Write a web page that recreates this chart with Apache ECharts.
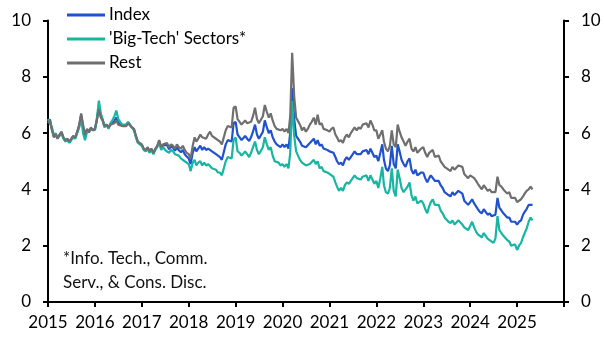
<!DOCTYPE html>
<html>
<head>
<meta charset="utf-8">
<script src="https://cdn.jsdelivr.net/npm/echarts@6/dist/echarts.min.js"></script>
<style>
  html, body { margin: 0; padding: 0; background: #fff; }
  #chart { width: 605px; height: 340px; }
</style>
</head>
<body>
<div id="chart"></div>
<script>
// Semi-monthly observations (1st and 16th of each month), Jan 2015 – May 2025
const dates = [];
for (let y = 2015; y <= 2025; y++) {
  for (let m = 0; m < 12; m++) {
    for (const d of [1, 16]) {
      if (y === 2025 && (m > 4 || (m === 4 && d > 1))) continue;
      dates.push(y + '-' + String(m + 1).padStart(2, '0') + '-' + String(d).padStart(2, '0'));
    }
  }
}

const seriesNames = ['Index', "'Big-Tech' Sectors*", 'Rest'];

const indexValues = [
  // 2015
  6.4, 6.48, 6.13, 5.86, 5.97, 5.82, 5.93, 6.03, 5.83, 5.73, 5.78, 5.68, 5.73, 5.88, 5.83, 6.03, 6.27, 6.65, 6.2, 5.9, 6.12, 6.03, 6.18, 6.1,
  // 2016
  6.14, 6.47, 6.95, 6.6, 6.47, 6.24, 6.3, 6.18, 6.31, 6.38, 6.43, 6.55, 6.36, 6.37, 6.27, 6.32, 6.27, 6.37, 6.3, 6.2, 6.14, 5.88, 5.68, 5.73,
  // 2017
  5.58, 5.43, 5.38, 5.48, 5.33, 5.43, 5.28, 5.43, 5.51, 5.72, 5.47, 5.57, 5.5, 5.58, 5.43, 5.53, 5.48, 5.38, 5.49, 5.39, 5.32, 5.4, 5.25, 5.17,
  // 2018
  5.1, 4.9, 5.3, 5.5, 5.35, 5.45, 5.55, 5.4, 5.5, 5.4, 5.45, 5.5, 5.35, 5.3, 5.25, 5.2, 5.15, 5.05, 5.1, 5.6, 5.75, 5.8, 5.7, 6.35,
  // 2019
  6.4, 5.95, 5.85, 5.75, 5.8, 5.9, 5.8, 5.72, 5.85, 6.05, 6.3, 5.95, 5.8, 5.75, 6.05, 6.45, 6.2, 6.0, 6.1, 5.85, 5.7, 5.6, 5.6, 5.5,
  // 2020
  5.6, 5.5, 5.6, 5.45, 6.0, 7.6, 6.5, 5.9, 5.85, 5.7, 5.55, 5.6, 5.5, 5.55, 5.65, 5.7, 5.8, 5.6, 5.75, 5.55, 5.6, 5.45, 5.5, 5.4,
  // 2021
  5.35, 5.4, 5.3, 5.15, 5.0, 4.9, 4.95, 4.85, 5.05, 5.15, 5.05, 5.15, 5.2, 5.35, 5.25, 5.3, 5.25, 5.35, 5.3, 5.4, 5.25, 5.45, 5.3, 5.15,
  // 2022
  5.2, 5.0, 5.3, 5.6, 5.05, 4.75, 4.65, 4.85, 5.55, 4.9, 4.75, 5.6, 5.35, 5.05, 4.9, 4.8, 5.0, 5.1, 4.7, 4.55, 4.7, 4.5, 4.45, 4.6,
  // 2023
  4.6, 4.4, 4.25, 4.4, 4.5, 4.55, 4.3, 4.25, 4.3, 4.15, 4.05, 3.9, 3.95, 3.8, 3.75, 3.9, 3.8, 3.85, 3.95, 3.95, 3.85, 3.6, 3.55, 3.45,
  // 2024
  3.55, 3.65, 3.5, 3.4, 3.3, 3.2, 3.15, 3.3, 3.2, 3.1, 3.15, 3.05, 3.05, 3.1, 3.7, 3.35, 3.25, 3.15, 3.1, 3.0, 3.0, 2.85, 2.8, 2.85,
  // 2025
  2.75, 2.85, 2.9, 3.1, 3.2, 3.3, 3.45, 3.5, 3.45
];

const bigTechValues = [
  // 2015
  6.5, 6.55, 6.2, 5.9, 6.0, 5.85, 5.9, 6.0, 5.8, 5.7, 5.75, 5.65, 5.7, 5.85, 5.8, 6.0, 6.2, 6.55, 6.0, 5.75, 6.05, 6.0, 6.15, 6.1,
  // 2016
  6.1, 6.5, 7.15, 6.7, 6.5, 6.2, 6.3, 6.15, 6.35, 6.45, 6.6, 6.8, 6.5, 6.4, 6.3, 6.35, 6.3, 6.4, 6.3, 6.2, 6.1, 5.85, 5.65, 5.7,
  // 2017
  5.55, 5.4, 5.35, 5.45, 5.3, 5.4, 5.25, 5.4, 5.45, 5.65, 5.4, 5.5, 5.4, 5.45, 5.3, 5.4, 5.35, 5.25, 5.3, 5.2, 5.1, 5.15, 5.0, 4.95,
  // 2018
  4.9, 4.65, 4.95, 5.05, 4.85, 4.95, 5.0, 4.85, 4.95, 4.85, 4.9, 4.9, 4.75, 4.7, 4.7, 4.6, 4.6, 4.5, 4.55, 5.0, 5.15, 5.2, 5.1, 5.75,
  // 2019
  5.85, 5.35, 5.3, 5.2, 5.25, 5.35, 5.25, 5.15, 5.3, 5.5, 5.7, 5.4, 5.25, 5.2, 5.5, 5.85, 5.6, 5.4, 5.5, 5.2, 5.0, 4.95, 4.95, 4.85,
  // 2020
  4.9, 4.8, 4.9, 4.75, 5.3, 7.15, 5.9, 5.35, 5.2, 5.05, 4.95, 4.95, 4.85, 4.9, 4.9, 4.95, 5.05, 4.9, 5.0, 4.75, 4.8, 4.65, 4.7, 4.6,
  // 2021
  4.55, 4.6, 4.45, 4.25, 4.1, 3.95, 4.05, 3.95, 4.15, 4.25, 4.2, 4.3, 4.35, 4.5, 4.4, 4.45, 4.35, 4.45, 4.4, 4.5, 4.3, 4.5, 4.35, 4.2,
  // 2022
  4.3, 4.05, 4.4, 4.8, 4.15, 3.9, 3.85, 4.05, 4.75, 3.95, 3.75, 4.7, 4.4, 4.05, 3.9, 3.85, 4.1, 4.25, 3.8, 3.6, 3.75, 3.5, 3.45, 3.6,
  // 2023
  3.5, 3.3, 3.15, 3.4, 3.55, 3.65, 3.45, 3.4, 3.45, 3.25, 3.15, 3.0, 3.0, 2.85, 2.8, 2.9, 2.75, 2.8, 2.9, 2.85, 2.75, 2.65, 2.6, 2.55,
  // 2024
  2.7, 2.85, 2.65, 2.5, 2.4, 2.35, 2.3, 2.45, 2.35, 2.25, 2.2, 2.15, 2.1, 2.25, 3.05, 2.55, 2.45, 2.35, 2.3, 2.2, 2.15, 2.0, 1.95, 2.05,
  // 2025
  1.85, 2.0, 2.1, 2.3, 2.45, 2.6, 2.85, 3.0, 2.9
];

const restValues = [
  // 2015
  6.35, 6.45, 6.1, 5.85, 5.95, 5.8, 5.95, 6.05, 5.85, 5.75, 5.8, 5.7, 5.75, 5.9, 5.85, 6.05, 6.3, 6.7, 6.3, 5.95, 6.15, 6.05, 6.2, 6.1,
  // 2016
  6.15, 6.45, 6.85, 6.55, 6.45, 6.25, 6.3, 6.2, 6.3, 6.35, 6.35, 6.45, 6.3, 6.35, 6.25, 6.3, 6.25, 6.35, 6.3, 6.2, 6.15, 5.9, 5.7, 5.75,
  // 2017
  5.6, 5.45, 5.4, 5.5, 5.35, 5.45, 5.3, 5.45, 5.55, 5.75, 5.5, 5.6, 5.55, 5.65, 5.5, 5.6, 5.55, 5.45, 5.6, 5.5, 5.45, 5.55, 5.4, 5.3,
  // 2018
  5.25, 5.1, 5.55, 5.85, 5.7, 5.8, 5.95, 5.85, 5.9, 5.8, 5.95, 6.05, 5.9, 5.85, 5.8, 5.75, 5.7, 5.6, 5.65, 6.1, 6.25, 6.3, 6.2, 6.9,
  // 2019
  6.95, 6.5, 6.4, 6.3, 6.35, 6.45, 6.35, 6.3, 6.4, 6.6, 6.9, 6.5, 6.35, 6.3, 6.6, 7.0, 6.75, 6.55, 6.7, 6.45, 6.25, 6.15, 6.2, 6.1,
  // 2020
  6.15, 6.05, 6.15, 6.0, 6.6, 8.85, 7.3, 6.55, 6.5, 6.3, 6.1, 6.2, 6.05, 6.15, 6.3, 6.4, 6.55, 6.3, 6.65, 6.3, 6.35, 6.15, 6.2, 6.1,
  // 2021
  6.05, 6.15, 6.2, 5.95, 5.85, 5.7, 5.75, 5.65, 5.85, 5.95, 5.85, 6.0, 6.05, 6.2, 6.1, 6.2, 6.15, 6.3, 6.25, 6.35, 6.2, 6.45, 6.3, 6.1,
  // 2022
  6.1, 5.8, 5.95, 6.1, 5.7, 5.45, 5.35, 5.55, 6.1, 5.6, 5.5, 6.3, 6.05, 5.85, 5.7, 5.55, 5.7, 5.8, 5.45, 5.35, 5.5, 5.3, 5.25, 5.45,
  // 2023
  5.5, 5.3, 5.15, 5.3, 5.3, 5.4, 5.15, 5.1, 5.2, 5.0, 4.9, 4.8, 4.85, 4.7, 4.65, 4.8, 4.7, 4.75, 4.85, 4.9, 4.8, 4.55, 4.5, 4.4,
  // 2024
  4.5, 4.55, 4.4, 4.3, 4.2, 4.1, 4.0, 4.15, 4.05, 3.95, 4.0, 3.9, 3.95, 3.9, 4.45, 4.15, 4.1, 4.0, 3.95, 3.85, 3.9, 3.7, 3.65, 3.7,
  // 2025
  3.55, 3.6, 3.65, 3.75, 3.85, 3.95, 4.0, 4.1, 4.0
];

const yearTicks = [2015, 2016, 2017, 2018, 2019, 2020, 2021, 2022, 2023, 2024, 2025];
const footnote = ['*Info. Tech., Comm.', 'Serv., & Cons. Disc.'];

const colors = ['#1f52cc', '#17b5a2', '#6f6f6f'];
const FONT = 'Lato, "Open Sans", sans-serif';

// Date string -> fractional year for the value-type x axis
function toYear(s) {
  const [y, m, d] = s.split('-').map(Number);
  const start = Date.UTC(y, 0, 1), end = Date.UTC(y + 1, 0, 1);
  return y + (Date.UTC(y, m - 1, d) - start) / (end - start);
}
const xs = dates.map(toYear);
const pairs = vals => vals.slice(0, xs.length).map((v, i) => [xs[i], v]);

const chart = echarts.init(document.getElementById('chart'), null, { renderer: 'canvas' });

const axisLineStyle = { show: true, lineStyle: { color: '#000', width: 2 } };
const yAxisCommon = {
  type: 'value', min: 0, max: 10, interval: 2,
  axisLine: axisLineStyle,
  axisTick: { show: true, length: 5, lineStyle: { color: '#000', width: 2 } },
  splitLine: { show: false },
  axisLabel: { fontSize: 17, fontFamily: FONT, color: '#000', margin: 17 }
};

chart.setOption({
  animation: false,
  backgroundColor: '#fff',
  grid: { left: 48, right: 41, top: 20.5, bottom: 38 },
  legend: {
    orient: 'vertical', left: 62, top: 0,
    icon: 'rect',
    itemWidth: 38, itemHeight: 3, itemGap: 4,
    data: seriesNames,
    textStyle: { fontSize: 17, fontFamily: FONT, color: '#000', lineHeight: 20, padding: [0, 0, 0, -1] }
  },
  xAxis: {
    type: 'value', min: 2015, max: 2026, interval: 1,
    axisLine: axisLineStyle,
    axisTick: { show: true, length: 5, lineStyle: { color: '#000', width: 2 } },
    splitLine: { show: false },
    axisLabel: {
      fontSize: 17, fontFamily: FONT, color: '#000', margin: 12,
      formatter: v => (yearTicks.includes(v) ? String(v) : '')
    }
  },
  yAxis: [
    Object.assign({ position: 'left' }, yAxisCommon),
    Object.assign({ position: 'right' }, yAxisCommon)
  ],
  graphic: [{
    type: 'text', left: 63, top: 247,
    style: {
      text: footnote.join('\n'),
      font: '17px ' + FONT, lineHeight: 24, fill: '#111'
    }
  }],
  series: [indexValues, bigTechValues, restValues].map((vals, i) => ({
    name: seriesNames[i],
    type: 'line',
    data: pairs(vals),
    symbol: 'none',
    color: colors[i],
    lineStyle: { color: colors[i], width: 2.2 }
  }))
});
</script>
</body>
</html>
